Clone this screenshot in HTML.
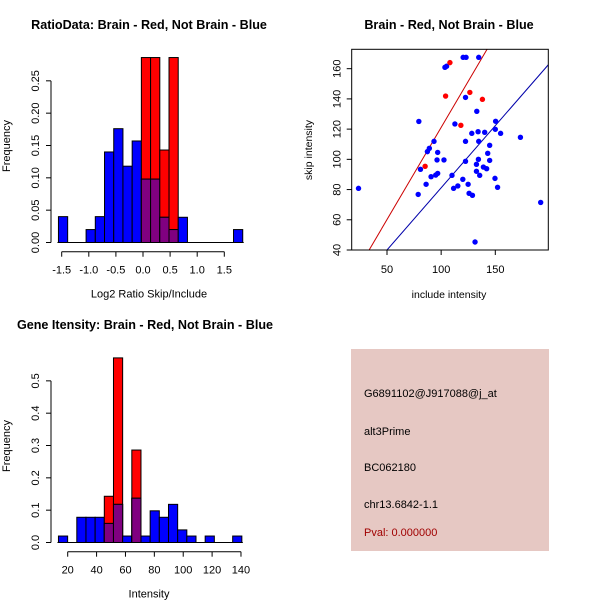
<!DOCTYPE html>
<html><head><meta charset="utf-8"><style>
body{margin:0;background:#fff}
svg{display:block;font-family:"Liberation Sans",sans-serif}
</style></head><body>
<svg id="c" width="600" height="600" viewBox="0 0 600 600">
<rect width="600" height="600" fill="#fff"/>
<text x="149" y="29" font-size="12.6" font-weight="bold" text-anchor="middle">RatioData: Brain - Red, Not Brain - Blue</text>
<text x="449" y="29" font-size="12.6" font-weight="bold" text-anchor="middle">Brain - Red, Not Brain - Blue</text>
<text x="145" y="329" font-size="12.6" font-weight="bold" text-anchor="middle">Gene Itensity: Brain - Red, Not Brain - Blue</text>
<g id="p1"></g>
<g id="p2"></g>
<g id="p3"></g>
<g>
<rect x="351" y="349" width="198" height="202" fill="#e6c8c3"/>
<text x="364" y="397" font-size="11">G6891102@J917088@j_at</text>
<text x="364" y="435" font-size="11">alt3Prime</text>
<text x="364" y="471" font-size="11">BC062180</text>
<text x="364" y="508" font-size="11">chr13.6842-1.1</text>
<text x="364" y="536" font-size="11" fill="#a00000">Pval: 0.000000</text>
</g>
</svg>
<script>
// Ratio histogram data
const ratioBinStart = -1.56, ratioBinWidth = 0.17;
const ratioBlue = [0.04,0,0,0.02,0.04,0.14,0.176,0.118,0.157,0.098,0.098,0.039,0.02,0.039,0,0,0,0,0,0.02];
const ratioRed  = [0,0,0,0,0,0,0,0,0,0.286,0.286,0.143,0.286,0,0,0,0,0,0,0];
const ratioXTicks = [-1.5,-1.0,-0.5,0.0,0.5,1.0,1.5];
const ratioYTicks = [0,0.05,0.10,0.15,0.20,0.25];
// Intensity histogram data
const intBinStart = 13.6, intBinWidth = 6.35;
const intBlue = [0.02,0,0.078,0.078,0.078,0.059,0.118,0.02,0.137,0.02,0.098,0.078,0.118,0.039,0.02,0,0.02,0,0,0.02];
const intRed  = [0,0,0,0,0,0.143,0.571,0,0.286,0,0,0,0,0,0,0,0,0,0,0];
const intXTicks = [20,40,60,80,100,120,140];
const intYTicks = [0,0.1,0.2,0.3,0.4,0.5];
// Scatter data
const blueX = [23.7,79.4,78.8,80.9,86.1,87.3,89.1,93.4,90.7,95,96.8,96.2,96.8,102.6,103.5,105,110,111.5,115.4,112.7,120,122.5,122.5,122.5,120.3,123,134.7,124.9,125.8,128.9,128.3,132.9,132.6,132.6,134.1,134.4,134.7,135.6,140.2,139,142,143,144.8,144.8,149.7,150.3,150,152.1,154.9,173.2,191.9,131.3];
const blueY = [80.8,125.1,76.8,93.4,83.5,105.1,107.3,111.9,88.5,89.6,90.7,99.6,104.6,99.6,160.9,161.6,89.4,80.8,82.4,123.4,86.8,98.7,111.9,141,167.5,167.5,167.5,83.5,77.5,76.2,117.2,131.8,96.7,92.1,118.3,100,111.9,89.4,117.9,94.9,93.8,104,109.3,99.3,87.4,125.2,119.9,81.5,117.2,114.6,71.5,45.3];
const redX = [85.2,104.1,108.1,118.2,126.5,138.1];
const redY = [95.4,141.9,164,122.5,144.3,139.7];
const redLine = [33.5,40,1.22];   // x0, y0, slope
const blueLine = [50,40,0.823];
const scXTicks = [50,100,150];
const scYTicks = [40,60,80,100,120,140,160];

const NS="http://www.w3.org/2000/svg";
function mk(parent,tag,attrs){const e=document.createElementNS(NS,tag);for(const k in attrs)e.setAttribute(k,attrs[k]);parent.appendChild(e);return e;}
function txt(parent,x,y,s,attrs){const e=mk(parent,'text',Object.assign({x:x,y:y,'font-size':11},attrs||{}));e.textContent=s;return e;}

function hist(g,o){
  const sx=v=>o.x0+(v-o.v0)*o.kx, sy=v=>o.y0-v*o.ky;
  for(let i=0;i<o.blue.length;i++){
    const l=sx(o.start+i*o.w), r=sx(o.start+(i+1)*o.w);
    const b=o.blue[i], rd=o.red[i];
    if(rd>0){const e=mk(g,'rect',{x:l,y:sy(rd),width:r-l,height:sy(0)-sy(rd),fill:'#ff0000',stroke:'#000','stroke-width':1});
      }
    if(b>0){const ov=Math.min(b,rd);
      const e=mk(g,'rect',{x:l,y:sy(b),width:r-l,height:sy(0)-sy(b),fill:'#0000ff',stroke:'#000','stroke-width':1});
      
      if(ov>0){const p=mk(g,'rect',{x:l,y:sy(ov),width:r-l,height:sy(0)-sy(ov),fill:'#800080',stroke:'#000','stroke-width':1});
        }
    }
  }
  const bl=mk(g,'line',{x1:sx(o.start)-1,x2:sx(o.start+o.blue.length*o.w)+1,y1:sy(0),y2:sy(0),stroke:'#000'});
  
  const ya=mk(g,'line',{x1:o.ax,x2:o.ax,y1:sy(o.yt[0]),y2:sy(o.yt[o.yt.length-1]),stroke:'#000'});
  
  o.yt.forEach(v=>{mk(g,'line',{x1:o.ax-5,x2:o.ax,y1:sy(v),y2:sy(v),stroke:'#000'});
    const t=txt(g,o.ax-12,sy(v),o.yfmt(v),{'text-anchor':'middle',transform:`rotate(-90 ${o.ax-12} ${sy(v)})`});
    });
  const xa=mk(g,'line',{x1:sx(o.xt[0]),x2:sx(o.xt[o.xt.length-1]),y1:o.ay,y2:o.ay,stroke:'#000'});
  
  o.xt.forEach(v=>{mk(g,'line',{x1:sx(v),x2:sx(v),y1:o.ay,y2:o.ay+5,stroke:'#000'});
    const t=txt(g,sx(v),o.ay+22,o.xfmt(v),{'text-anchor':'middle'});
    });
  const xl=txt(g,o.cx,o.ay+46,o.xlab,{'text-anchor':'middle'});
  
  const yl=txt(g,10,o.cy,'Frequency',{'text-anchor':'middle',transform:`rotate(-90 10 ${o.cy})`});
  
}
hist(document.getElementById('p1'),{start:ratioBinStart,w:ratioBinWidth,blue:ratioBlue,red:ratioRed,
  v0:-1.5,x0:61.7,kx:54.2,y0:242.5,ky:646.7,ax:51,ay:251.7,xt:ratioXTicks,yt:ratioYTicks,
  xfmt:v=>v.toFixed(1),yfmt:v=>v.toFixed(2),xlab:'Log2 Ratio Skip/Include',cx:149,cy:146});
hist(document.getElementById('p3'),{start:intBinStart,w:intBinWidth,blue:intBlue,red:intRed,
  v0:20,x0:67.7,kx:1.444,y0:542.5,ky:323.3,ax:51,ay:551.7,xt:intXTicks,yt:intYTicks,
  xfmt:v=>String(v),yfmt:v=>v.toFixed(1),xlab:'Intensity',cx:149,cy:446});

(function(){
  const g=document.getElementById('p2');
  const L=351.7,R=548.3,T=49.3,B=250;
  const sx=v=>387+(v-50)*1.083, sy=v=>250-(v-40)*1.511;
  const clip=mk(g,'clipPath',{id:'sc'});mk(clip,'rect',{x:L,y:T,width:R-L,height:B-T});
  const lg=mk(g,'g',{'clip-path':'url(#sc)'});
  [[redLine,'#cc0000','red-fit-line'],[blueLine,'#0000aa','blue-fit-line']].forEach(([ln,c,n])=>{
    const xa=ln[0], xb=250;
    const e=mk(lg,'line',{x1:sx(xa),y1:sy(ln[1]),x2:sx(xb),y2:sy(ln[1]+(xb-xa)*ln[2]),stroke:c,'stroke-width':1});
    });
  for(let i=0;i<blueX.length;i++){const e=mk(g,'circle',{cx:sx(blueX[i]),cy:sy(blueY[i]),r:2.7,fill:'#0000ff'});
    }
  for(let i=0;i<redX.length;i++){const e=mk(g,'circle',{cx:sx(redX[i]),cy:sy(redY[i]),r:2.7,fill:'#ff0000'});
    }
  const box=mk(g,'rect',{x:L,y:T,width:R-L,height:B-T,fill:'none',stroke:'#000'});
  
  scXTicks.forEach(v=>{mk(g,'line',{x1:sx(v),x2:sx(v),y1:B,y2:B+5,stroke:'#000'});
    const t=txt(g,sx(v),B+23,String(v),{'text-anchor':'middle'});
    });
  scYTicks.forEach(v=>{mk(g,'line',{x1:L-5,x2:L,y1:sy(v),y2:sy(v),stroke:'#000'});
    const t=txt(g,L-11,sy(v),String(v),{'text-anchor':'middle',transform:`rotate(-90 ${L-11} ${sy(v)})`});
    });
  const xl=txt(g,449,298,'include intensity',{'text-anchor':'middle','font-size':10.5});
  
  const yl=txt(g,312,150,'skip intensity',{'text-anchor':'middle','font-size':10.5,transform:'rotate(-90 312 150)'});
  
})();
</script>
</body></html>
